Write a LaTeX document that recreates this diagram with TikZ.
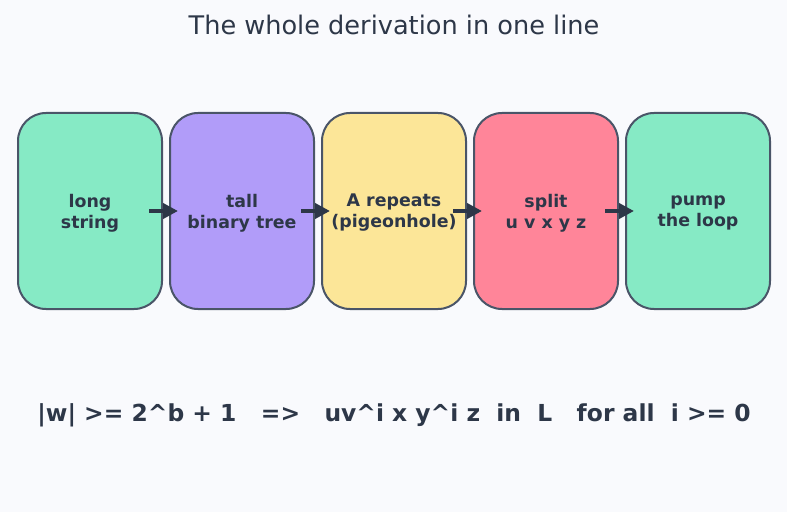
\documentclass[tikz,border=0pt]{standalone}
\usepackage{fontspec}
\setmainfont{DejaVu Sans}
\usetikzlibrary{arrows.meta}
\definecolor{bg}{HTML}{F9FAFD}
\definecolor{ink}{HTML}{2D3748}
\definecolor{edge}{HTML}{4A5568}
\definecolor{cgreen}{HTML}{86EAC5}
\definecolor{cpurple}{HTML}{B19CF9}
\definecolor{cyellow}{HTML}{FCE698}
\definecolor{cred}{HTML}{FF8599}
\tikzset{
  stagebox/.style={draw=edge, line width=2pt, rounded corners=28pt,
    minimum width=144pt, minimum height=196pt, inner sep=0pt},
  stagetext/.style={align=center, text=ink, inner sep=0pt, yshift=-2pt,
    font=\fontsize{17.4}{21}\selectfont\bfseries},
  flow/.style={draw=ink, line width=4.5pt, -{Triangle[length=15pt,width=15pt]}}
}
\begin{document}
\begin{tikzpicture}[x=1pt,y=1pt]
\useasboundingbox[fill=bg] (0,0) rectangle (787,512);
\node[text=ink, font=\fontsize{25.6}{30}\selectfont] (title) at (394,487) {The whole derivation in one line};
\node[stagebox, fill=cgreen, label={[stagetext]center:{long\\string}}] (b1) at (90,301) {};
\node[stagebox, fill=cpurple, label={[stagetext]center:{tall\\binary tree}}] (b2) at (242,301) {};
\node[stagebox, fill=cyellow, label={[stagetext]center:{A repeats\\(pigeonhole)}}] (b3) at (394,301) {};
\node[stagebox, fill=cred, label={[stagetext]center:{split\\u v x y z}}] (b4) at (546,301) {};
\node[stagebox, fill=cgreen, label={[stagetext]center:{pump\\the loop}}] (b5) at (698,301) {};
\draw[flow] ([xshift=-14pt]b1.east) -- ([xshift=9pt]b2.west);
\draw[flow] ([xshift=-14pt]b2.east) -- ([xshift=9pt]b3.west);
\draw[flow] ([xshift=-14pt]b3.east) -- ([xshift=9pt]b4.west);
\draw[flow] ([xshift=-14pt]b4.east) -- ([xshift=9pt]b5.west);
\node[text=ink, font=\fontsize{23.4}{28}\selectfont\bfseries] (formula) at (394,97)
  {|w| >= 2\^{}b + 1 \ \ => \ \ uv\^{}i x y\^{}i z \ in \ L \ \ for all \ i >= 0};
\end{tikzpicture}
\end{document}
